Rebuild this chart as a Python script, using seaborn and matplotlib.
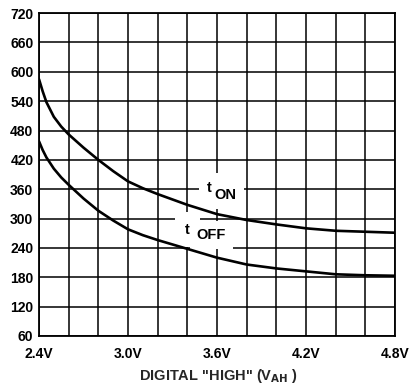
import numpy as np
import pandas as pd
import matplotlib
matplotlib.use("Agg")
import matplotlib.pyplot as plt
import seaborn as sns

# Switching time vs. digital "high" input level
v_ah = [2.4, 2.425, 2.45, 2.5, 2.55, 2.6, 2.7, 2.8, 2.9, 3.0, 3.1, 3.2, 3.4,
        3.6, 3.8, 4.0, 4.2, 4.4, 4.6, 4.8]
t_on = [585, 560, 538, 508, 488, 472, 445, 420, 397, 376, 362, 350, 328,
        309, 297, 288, 280, 275, 273, 271]
t_off = [458, 440, 425, 402, 384, 369, 341, 316, 296, 278, 266, 256, 238,
         220, 206, 198, 192, 186, 184, 183]

y_ticks = [60, 120, 180, 240, 300, 360, 420, 480, 540, 600, 660, 720]
x_ticks = [2.4, 3.0, 3.6, 4.2, 4.8]
x_tick_labels = ["2.4V", "3.0V", "3.6V", "4.2V", "4.8V"]
x_grid = [2.4, 2.6, 2.8, 3.0, 3.2, 3.4, 3.6, 3.8, 4.0, 4.2, 4.4, 4.6, 4.8]

df = pd.DataFrame({
    "v": v_ah * 2,
    "t": t_on + t_off,
    "series": ["ON"] * len(v_ah) + ["OFF"] * len(v_ah),
})

sns.set_theme(style="white")
plt.rcParams["font.family"] = ["Liberation Sans", "DejaVu Sans"]
plt.rcParams["font.weight"] = "bold"

fig = plt.figure(figsize=(4.14, 3.87), dpi=100)
ax = fig.add_axes([0.0942, 0.132, 0.860, 0.834])

sns.lineplot(data=df, x="v", y="t", units="series", estimator=None,
             color="black", linewidth=1.9, ax=ax, zorder=4, legend=False)

ax.set_xlim(2.4, 4.8)
ax.set_ylim(60, 720)
ax.set_xticks(x_ticks)
ax.set_xticklabels(x_tick_labels, fontsize=10, fontweight="bold")
ax.set_xticks(x_grid, minor=True)
ax.set_yticks(y_ticks)
ax.set_yticklabels([str(v) for v in y_ticks], fontsize=10, fontweight="bold")
ax.tick_params(axis="both", which="both", length=0, colors="black")
ax.tick_params(axis="x", pad=8)
ax.tick_params(axis="y", pad=4)
ax.grid(True, which="both", color="black", linewidth=1.1, zorder=1)
ax.set_axisbelow(True)
for s in ax.spines.values():
    s.set_visible(True)
    s.set_color("black")
    s.set_linewidth(1.3)

ax.set_xlabel("DIGITAL \"HIGH\" (V$_{\\mathbf{AH}}$ )", fontsize=10.5, fontweight="bold")
ax.xaxis.label.set_va("center")
ax.xaxis.set_label_coords(0.505, -0.124)
ax.set_ylabel("")

# curve labels: white patches break the grid, glyphs drawn on top
labels = [
    (3.55, 362, "t", 10.5, "center", 6),
    (3.585, 348, "ON", 10.5, "left", 5),
    (3.40, 277, "t", 10.5, "center", 7.5),
    (3.463, 266, "OFF", 10.5, "left", 5),
]
for x, y, s, fs, ha, pad in labels:
    ax.text(x, y, s, fontsize=fs, fontweight="bold", ha=ha, va="center",
            color="white", zorder=2.5,
            bbox=dict(facecolor="white", edgecolor="none", pad=pad))
for x, y, s, fs, ha, pad in labels:
    ax.text(x, y, s, fontsize=fs, fontweight="bold", ha=ha, va="center",
            color="black", zorder=3)

fig.savefig("out.png", dpi=100, facecolor="white")
